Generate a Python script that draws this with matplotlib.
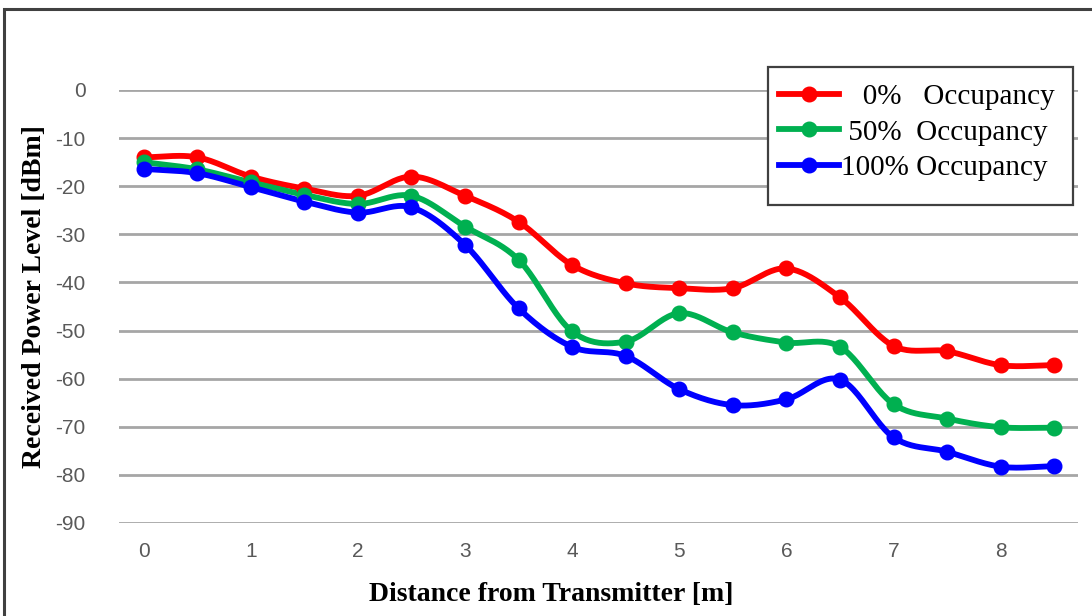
import numpy as np
import matplotlib
matplotlib.use("Agg")
import matplotlib.pyplot as plt
from matplotlib.patches import Rectangle

plt.rcParams["axes.unicode_minus"] = False

# Measured received power (dBm) versus distance from the transmitter (m)
distance = [0, 0.5, 1, 1.5, 2, 2.5, 3, 3.5, 4, 4.5, 5, 5.5, 6, 6.5, 7, 7.5, 8, 8.5]
occ_0 = [-14, -14, -18, -20.5, -22, -18, -22, -27.4, -36.4, -40.2, -41.2, -41.2,
         -37.1, -43.1, -53.2, -54.3, -57.2, -57.2]
occ_50 = [-15, -16.5, -19.2, -21.8, -23.7, -22, -28.4, -35.3, -50.2, -52.3, -46.4,
          -50.4, -52.5, -53.4, -65.3, -68.3, -70.1, -70.2]
occ_100 = [-16.4, -17.3, -20.2, -23.2, -25.5, -24.4, -32.2, -45.4, -53.4, -55.3,
           -62.2, -65.5, -64.3, -60.2, -72.2, -75.2, -78.3, -78.2]

series_labels = ["   0%   Occupancy", " 50%  Occupancy", "100% Occupancy"]
series_colors = ["#FF0000", "#00B050", "#0000FF"]
x_ticks = [0, 1, 2, 3, 4, 5, 6, 7, 8]
y_ticks = [0, -10, -20, -30, -40, -50, -60, -70, -80, -90]

W, H = 1092, 616


def smooth(x, y, n=24):
    """Cardinal (Catmull-Rom) spline through the points, like a smoothed line chart."""
    x = np.asarray(x, float)
    y = np.asarray(y, float)
    m = len(x)
    tx = np.empty(m)
    ty = np.empty(m)
    tx[1:-1] = (x[2:] - x[:-2]) / 2
    ty[1:-1] = (y[2:] - y[:-2]) / 2
    tx[0], ty[0] = x[1] - x[0], y[1] - y[0]
    tx[-1], ty[-1] = x[-1] - x[-2], y[-1] - y[-2]
    xs, ys = [], []
    t = np.linspace(0, 1, n, endpoint=False)
    h00 = 2 * t**3 - 3 * t**2 + 1
    h10 = t**3 - 2 * t**2 + t
    h01 = -2 * t**3 + 3 * t**2
    h11 = t**3 - t**2
    for i in range(m - 1):
        xs.append(h00 * x[i] + h10 * tx[i] + h01 * x[i + 1] + h11 * tx[i + 1])
        ys.append(h00 * y[i] + h10 * ty[i] + h01 * y[i + 1] + h11 * ty[i + 1])
    xs.append([x[-1]])
    ys.append([y[-1]])
    return np.concatenate(xs), np.concatenate(ys)


fig = plt.figure(figsize=(W / 100, H / 100), dpi=100)
ax_left, ax_bottom, ax_w, ax_h = 0.109, 0.151, 0.878, 0.703
ax = fig.add_axes([ax_left, ax_bottom, ax_w, ax_h])

# outer chart border
fig.patches.append(Rectangle((4 / W, -0.05), 1.2, (H - 9) / H + 0.05,
                             transform=fig.transFigure, fill=False,
                             edgecolor="#404040", linewidth=2.2))

for vals, lab, col in zip([occ_0, occ_50, occ_100], series_labels, series_colors):
    sx, sy = smooth(distance, vals)
    ax.plot(sx, sy, color=col, linewidth=4.2, solid_capstyle="round", zorder=3)
    ax.plot(distance, vals, linestyle="none", marker="o", markersize=10.5,
            color=col, zorder=4)
    ax.plot([], [], color=col, linewidth=4.2, marker="o", markersize=10.5, label=lab)

ax.set_xlim(-0.23, 8.72)
ax.set_ylim(-90, 0)
ax.set_xticks(x_ticks)
ax.set_yticks(y_ticks)
ax.grid(axis="y", color="#A6A6A6", linewidth=2)
ax.set_axisbelow(True)
for s in ax.spines.values():
    s.set_visible(False)
ax.tick_params(length=0, labelsize=15, labelcolor="#595959", pad=14)
for lbl in ax.get_xticklabels() + ax.get_yticklabels():
    lbl.set_family("Liberation Sans")
ax.tick_params(axis="y", pad=24)

ax.set_xlabel("Distance from Transmitter [m]", family="Liberation Serif",
              fontweight="bold", fontsize=20)
ax.set_ylabel("Received Power Level [dBm]", family="Liberation Serif",
              fontweight="bold", fontsize=20)
ax.xaxis.set_label_coords((551 / W - ax_left) / ax_w,
                          ((H - 582) / H - ax_bottom) / ax_h)
ax.yaxis.set_label_coords((47 / W - ax_left) / ax_w,
                          ((H - 297) / H - ax_bottom) / ax_h)

# legend frame and entries
ax.add_patch(Rectangle((768 / W, (H - 205) / H), (1073 - 768) / W, 138 / H,
                       transform=fig.transFigure, fill=True, clip_on=False,
                       facecolor="white", edgecolor="#404040",
                       linewidth=1.6, zorder=5))
leg = ax.legend(loc="upper left", bbox_to_anchor=(779 / W, (H - 84) / H),
                bbox_transform=fig.transFigure,
                prop={"family": "Liberation Serif", "size": 21},
                frameon=False, handlelength=2.05,
                handletextpad=0.08, labelspacing=0.30, borderpad=0,
                borderaxespad=0)
leg.set_zorder(6)

fig.savefig("out.png", dpi=100)
